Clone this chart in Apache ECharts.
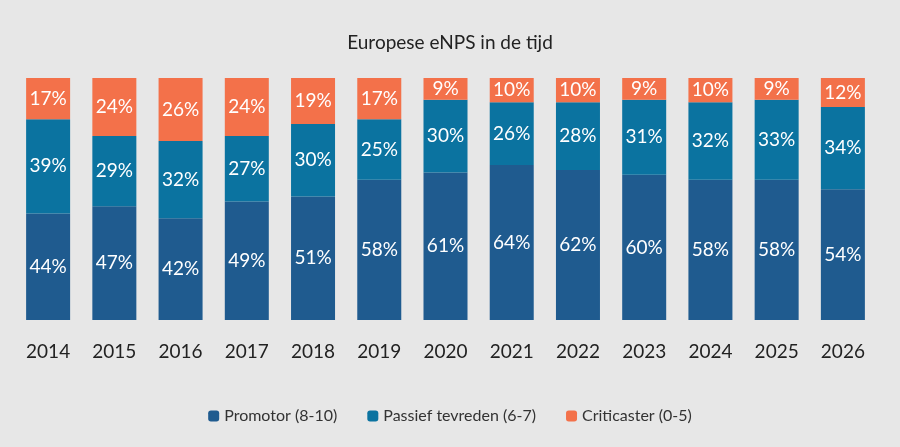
<!DOCTYPE html>
<html><head><meta charset="utf-8">
<script src="https://cdn.jsdelivr.net/npm/echarts@6/dist/echarts.min.js"></script>
<style>html,body{margin:0;background:#e7e7e7}#c{width:900px;height:447px}</style>
</head><body><div id="c"></div>
<script>
const years=['2014','2015','2016','2017','2018','2019','2020','2021','2022','2023','2024','2025','2026'];
const promotor=[44,47,42,49,51,58,61,64,62,60,58,58,54];
const passief=[39,29,32,27,30,25,30,26,28,31,32,33,34];
const critic=[17,24,26,24,19,17,9,10,10,9,10,9,12];
const F='Lato';
const lab={show:true,position:'inside',color:'#fff',fontSize:19,fontFamily:F,formatter:p=>p.value+'%'};
function s(name,data,color,labelPos){return {name,type:'bar',stack:'a',data,barWidth:44,itemStyle:{color},label:Object.assign({},lab,labelPos||{})};}
const ch=echarts.init(document.getElementById('c'));
ch.setOption({
backgroundColor:'#e7e7e7',
title:{text:'Europese eNPS in de tijd',left:'center',top:28,textStyle:{fontFamily:F,fontWeight:'normal',fontSize:19,color:'#222'}},
legend:{bottom:18,itemWidth:11,itemHeight:11,itemGap:30,textStyle:{fontFamily:F,fontSize:16,color:'#333'},data:['Promotor (8-10)','Passief tevreden (6-7)','Criticaster (0-5)']},
grid:{left:15,right:24,top:78,bottom:127},
xAxis:{type:'category',data:years,axisLine:{show:false},axisTick:{show:false},axisLabel:{fontFamily:F,fontSize:19,color:'#222',margin:22}},
yAxis:{type:'value',min:0,max:100,show:false,splitLine:{show:false}},
series:[s('Promotor (8-10)',promotor,'#1f5b8f'),s('Passief tevreden (6-7)',passief,'#0b73a0'),s('Criticaster (0-5)',critic,'#f3714a')]
});
</script></body></html>
